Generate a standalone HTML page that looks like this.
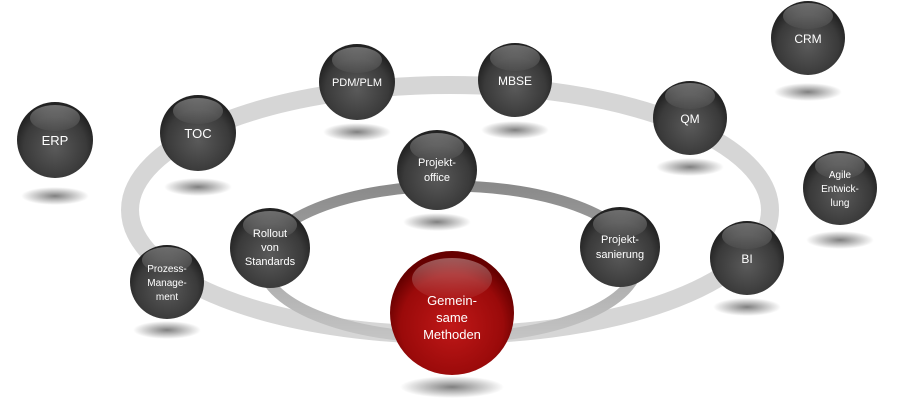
<!DOCTYPE html><html><head><style>body{margin:0;background:#fff}svg{display:block}text{font-family:"Liberation Sans",sans-serif;fill:#fff;text-anchor:middle}</style></head><body>
<svg width="900" height="403" viewBox="0 0 900 403">
<defs>
<radialGradient id="g" cx="50%" cy="60%" r="55%"><stop offset="0" stop-color="#5a5a5a"/><stop offset="0.75" stop-color="#3a3a3a"/><stop offset="1" stop-color="#222"/></radialGradient>
<radialGradient id="r" cx="50%" cy="60%" r="55%"><stop offset="0" stop-color="#c01818"/><stop offset="0.75" stop-color="#9a0a0a"/><stop offset="1" stop-color="#600"/></radialGradient>
<linearGradient id="h" x1="0" y1="0" x2="0" y2="1"><stop offset="0" stop-color="#fff" stop-opacity=".35"/><stop offset="1" stop-color="#fff" stop-opacity=".03"/></linearGradient>
<radialGradient id="s"><stop offset="0" stop-color="#000" stop-opacity=".5"/><stop offset="1" stop-color="#000" stop-opacity="0"/></radialGradient>
<linearGradient id="ir" x1="0" y1="0" x2="0" y2="1"><stop offset="0" stop-color="#8a8a8a"/><stop offset="1" stop-color="#c4c4c4"/></linearGradient>
</defs>
<ellipse cx="450" cy="210" rx="320" ry="125" fill="none" stroke="#d6d6d6" stroke-width="18"/>
<ellipse cx="450" cy="262" rx="188" ry="76" fill="none" stroke="url(#ir)" stroke-width="11"/>
<g>
<ellipse cx="55" cy="196" rx="34" ry="9" fill="url(#s)"/>
<ellipse cx="198" cy="187" rx="34" ry="9" fill="url(#s)"/>
<ellipse cx="357" cy="132" rx="34" ry="9" fill="url(#s)"/>
<ellipse cx="515" cy="130" rx="34" ry="9" fill="url(#s)"/>
<ellipse cx="690" cy="167" rx="34" ry="9" fill="url(#s)"/>
<ellipse cx="808" cy="92" rx="34" ry="9" fill="url(#s)"/>
<ellipse cx="840" cy="240" rx="34" ry="9" fill="url(#s)"/>
<ellipse cx="747" cy="307" rx="34" ry="9" fill="url(#s)"/>
<ellipse cx="167" cy="330" rx="34" ry="9" fill="url(#s)"/>
<ellipse cx="437" cy="222" rx="34" ry="9" fill="url(#s)"/>
<ellipse cx="452" cy="387" rx="52" ry="11" fill="url(#s)"/>
</g>
<g>
<circle cx="55" cy="140" r="38" fill="url(#g)"/><ellipse cx="55" cy="118" rx="25" ry="13" fill="url(#h)"/><text x="55" y="145" font-size="13">ERP</text>
<circle cx="198" cy="133" r="38" fill="url(#g)"/><ellipse cx="198" cy="111" rx="25" ry="13" fill="url(#h)"/><text x="198" y="138" font-size="13">TOC</text>
<circle cx="357" cy="82" r="38" fill="url(#g)"/><ellipse cx="357" cy="60" rx="25" ry="13" fill="url(#h)"/><text x="357" y="86" font-size="11">PDM/PLM</text>
<circle cx="515" cy="80" r="37" fill="url(#g)"/><ellipse cx="515" cy="58" rx="25" ry="13" fill="url(#h)"/><text x="515" y="85" font-size="12">MBSE</text>
<circle cx="690" cy="118" r="37" fill="url(#g)"/><ellipse cx="690" cy="96" rx="25" ry="13" fill="url(#h)"/><text x="690" y="123" font-size="12">QM</text>
<circle cx="808" cy="38" r="37" fill="url(#g)"/><ellipse cx="808" cy="16" rx="25" ry="13" fill="url(#h)"/><text x="808" y="43" font-size="12">CRM</text>
<circle cx="840" cy="188" r="37" fill="url(#g)"/><ellipse cx="840" cy="166" rx="25" ry="13" fill="url(#h)"/><text x="840" y="178" font-size="10">Agile</text><text x="840" y="192" font-size="10">Entwick-</text><text x="840" y="206" font-size="10">lung</text>
<circle cx="747" cy="258" r="37" fill="url(#g)"/><ellipse cx="747" cy="236" rx="25" ry="13" fill="url(#h)"/><text x="747" y="263" font-size="12">BI</text>
<circle cx="167" cy="282" r="37" fill="url(#g)"/><ellipse cx="167" cy="260" rx="25" ry="13" fill="url(#h)"/><text x="167" y="272" font-size="10">Prozess-</text><text x="167" y="286" font-size="10">Manage-</text><text x="167" y="300" font-size="10">ment</text>
<circle cx="270" cy="248" r="40" fill="url(#g)"/><ellipse cx="270" cy="225" rx="27" ry="14" fill="url(#h)"/><text x="270" y="237" font-size="11">Rollout</text><text x="270" y="251" font-size="11">von</text><text x="270" y="265" font-size="11">Standards</text>
<circle cx="437" cy="170" r="40" fill="url(#g)"/><ellipse cx="437" cy="147" rx="27" ry="14" fill="url(#h)"/><text x="437" y="166" font-size="11">Projekt-</text><text x="437" y="181" font-size="11">office</text>
<circle cx="620" cy="247" r="40" fill="url(#g)"/><ellipse cx="620" cy="224" rx="27" ry="14" fill="url(#h)"/><text x="620" y="243" font-size="11">Projekt-</text><text x="620" y="258" font-size="11">sanierung</text>
<circle cx="452" cy="313" r="62" fill="url(#r)"/><ellipse cx="452" cy="279" rx="40" ry="21" fill="url(#h)"/><text x="452" y="305" font-size="13">Gemein-</text><text x="452" y="322" font-size="13">same</text><text x="452" y="339" font-size="13">Methoden</text>
</g>
</svg></body></html>
